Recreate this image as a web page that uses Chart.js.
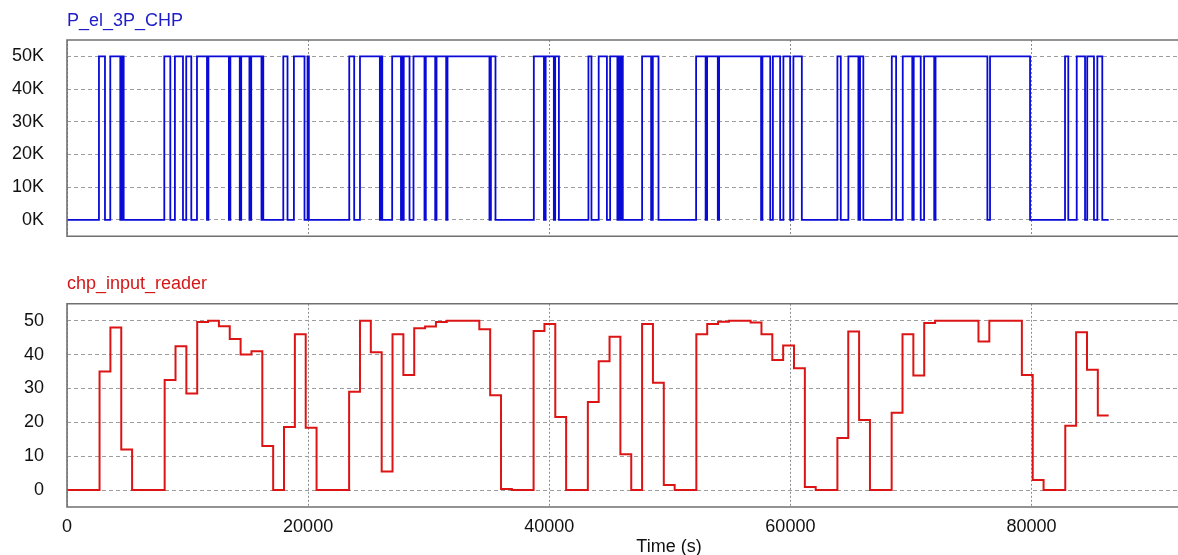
<!DOCTYPE html>
<html lang="en">
<head>
<meta charset="UTF-8">
<title>P_el_3P_CHP / chp_input_reader</title>
<script src="https://cdn.jsdelivr.net/npm/chart.js"></script>
<style>
    body {
        margin: 0;
        background: #ffffff;
        width: 1178px;
        height: 555px;
        overflow: hidden;
    }
    canvas { display: block; }
</style>
</head>
<body>

<canvas id="powerChart" width="1178" height="270"></canvas>
<canvas id="readerChart" width="1178" height="285"></canvas>

<script>
// x axis (time in seconds)
const timeTicks = [0, 20000, 40000, 60000, 80000];
const timeMax = 92150;

// top panel: electrical CHP power (W), given as switching instants
const powerTicks = [0, 10000, 20000, 30000, 40000, 50000];
const ON = 50000, OFF = 0;
const powerTimes = [
    0, 2650, 3150, 3590, 4420, 4500, 4560, 4630, 4700,
    8070, 8570, 8950, 9620, 9890, 10310, 10780,
    11610, 11730, 13430, 13550, 14330, 14450, 15130, 15280,
    16130, 16210, 16280, 17940, 18290, 18820, 19700, 19950, 20060,
    23410, 23820, 24300, 25950, 26050, 26150, 26970,
    27700, 27780, 27860, 27930, 28410, 28740,
    29650, 29760, 30540, 30650, 31450, 31560, 35040, 35160, 35540,
    38720, 39560, 39700, 40380, 40490, 40800,
    43250, 43500, 44100, 44780, 45050,
    45650, 45720, 45800, 45870, 45950, 46020, 46100,
    47700, 48450, 48590, 49060,
    52180, 52970, 53090, 53980, 54090, 57570, 57680,
    58330, 58550, 59150, 59420, 59980, 60250, 60950,
    63900, 64180, 64810, 65640, 65780, 66050,
    68410, 68770, 69320, 70110, 70230, 70810, 71090, 71930, 72040,
    76340, 76560, 79880,
    82780, 83050, 83750, 84440, 84620, 85180, 85460, 85870, 86400
];
const powerValues = [
    OFF, ON, OFF, ON, OFF, ON, OFF, ON, OFF,
    ON, OFF, ON, OFF, ON, OFF, ON,
    OFF, ON, OFF, ON, OFF, ON, OFF, ON,
    OFF, ON, OFF, ON, OFF, ON, OFF, ON, OFF,
    ON, OFF, ON, OFF, ON, OFF, ON,
    OFF, ON, OFF, ON, OFF, ON,
    OFF, ON, OFF, ON, OFF, ON, OFF, ON, OFF,
    ON, OFF, ON, OFF, ON, OFF,
    ON, OFF, ON, OFF, ON,
    OFF, ON, OFF, ON, OFF, ON, OFF,
    ON, OFF, ON, OFF,
    ON, OFF, ON, OFF, ON, OFF, ON,
    OFF, ON, OFF, ON, OFF, ON, OFF,
    ON, OFF, ON, OFF, ON, OFF,
    ON, OFF, ON, OFF, ON, OFF, ON, OFF, ON,
    OFF, ON, OFF,
    ON, OFF, ON, OFF, ON, OFF, ON, OFF, OFF
];

// bottom panel: input reader, one value per 15 min slot
const readerTicks = [0, 10, 20, 30, 40, 50];
const slotLength = 900;
const readerValues = [
    0, 0, 0, 35, 48, 12, 0, 0, 0, 32.5,
    42.5, 28.5, 49.6, 50, 48.4, 44.6, 40, 41, 13, 0,
    18.6, 46, 18.4, 0, 0, 0, 29, 50, 40.7, 5.5,
    46, 34, 47.8, 48.3, 49.6, 50, 50, 50, 47.5, 28,
    0.3, 0, 0, 47, 49, 21.6, 0, 0, 26, 38,
    45.3, 10.6, 0, 49, 31.7, 1.5, 0, 0, 46, 49,
    49.7, 50, 50, 49.5, 46, 38.4, 42.7, 36, 0.9, 0,
    0, 15.4, 46.8, 20.7, 0, 0, 22.8, 46, 33.8, 49.3,
    50, 50, 50, 50, 43.9, 50, 50, 50, 34, 3,
    0, 0, 19, 46.6, 35.5, 22
];

const FONT = '"Liberation Sans", Arial, sans-serif';
Chart.defaults.font.family = FONT;
Chart.defaults.font.size = 18;
Chart.defaults.color = '#111111';

// box round the plot + panel caption (+ axis title)
const panelFrame = {
    id: 'panelFrame',
    afterDraw(chart, args, opts) {
        const ctx = chart.ctx;
        const a = chart.chartArea;
        ctx.save();
        ctx.strokeStyle = '#707070';
        ctx.lineWidth = 1.6;
        ctx.beginPath();
        ctx.moveTo(a.right + 5, a.top);
        ctx.lineTo(a.left, a.top);
        ctx.lineTo(a.left, a.bottom);
        ctx.lineTo(a.right + 5, a.bottom);
        ctx.stroke();

        ctx.font = '18px ' + FONT;
        ctx.fillStyle = opts.color;
        ctx.textAlign = 'left';
        ctx.textBaseline = 'alphabetic';
        ctx.fillText(opts.title, a.left, opts.titleY);

        if (opts.xTitle) {
            ctx.fillStyle = '#111111';
            ctx.textAlign = 'center';
            ctx.textBaseline = 'middle';
            ctx.fillText(opts.xTitle, opts.xTitleX, opts.xTitleY);
        }
        ctx.restore();
    }
};

function setTicks(list) {
    return scale => { scale.ticks = list.map(v => ({ value: v })); };
}

function xScale(showLabels) {
    return {
        type: 'linear',
        min: 0,
        max: timeMax,
        afterBuildTicks: setTicks(timeTicks),
        afterFit: s => { s.height = showLabels ? 48 : 0; },
        ticks: { display: showLabels, padding: 9, maxRotation: 0, callback: v => String(v) },
        grid: { color: '#8a8a8a', lineWidth: 1, drawTicks: false },
        border: { display: false, dash: [2, 2] }
    };
}

function yScale(min, max, list, fmt) {
    return {
        min: min,
        max: max,
        afterBuildTicks: setTicks(list),
        afterFit: s => { s.width = 67; },
        ticks: { padding: 23, callback: fmt },
        grid: { color: '#9c9c9c', lineWidth: 1, drawTicks: false },
        border: { display: false, dash: [4, 3] }
    };
}

const powerChart = new Chart(document.getElementById('powerChart'), {
    type: 'line',
    data: {
        datasets: [{
            label: 'P_el_3P_CHP',
            data: powerTimes.map((t, i) => ({ x: t, y: powerValues[i] })),
            borderColor: '#0a0ad6',
            borderWidth: 1.8,
            pointRadius: 0,
            stepped: true,
            fill: false
        }]
    },
    options: {
        responsive: false,
        animation: false,
        events: [],
        layout: { autoPadding: false, padding: { top: 40, bottom: 16, left: 0, right: 0 } },
        scales: {
            x: xScale(false),
            y: yScale(-5000, 55000, powerTicks, v => (v / 1000) + 'K')
        },
        plugins: {
            legend: { display: false },
            tooltip: { enabled: false },
            panelFrame: { title: 'P_el_3P_CHP', color: '#1c1cc8', titleY: 26 }
        }
    },
    plugins: [panelFrame]
});

const lastSlot = readerValues[readerValues.length - 1];
const readerPoints = readerValues.map((v, i) => ({ x: i * slotLength, y: v }));
readerPoints.push({ x: readerValues.length * slotLength, y: lastSlot });

const readerChart = new Chart(document.getElementById('readerChart'), {
    type: 'line',
    data: {
        datasets: [{
            label: 'chp_input_reader',
            data: readerPoints,
            borderColor: '#dc1414',
            borderWidth: 2,
            pointRadius: 0,
            stepped: true,
            fill: false
        }]
    },
    options: {
        responsive: false,
        animation: false,
        events: [],
        layout: { autoPadding: false, padding: { top: 33, bottom: 0, left: 0, right: 0 } },
        scales: {
            x: xScale(true),
            y: yScale(-5, 55, readerTicks, v => v)
        },
        plugins: {
            legend: { display: false },
            tooltip: { enabled: false },
            panelFrame: {
                title: 'chp_input_reader', color: '#d41818', titleY: 19,
                xTitle: 'Time (s)', xTitleX: 669, xTitleY: 277
            }
        }
    },
    plugins: [panelFrame]
});
</script>
</body>
</html>
